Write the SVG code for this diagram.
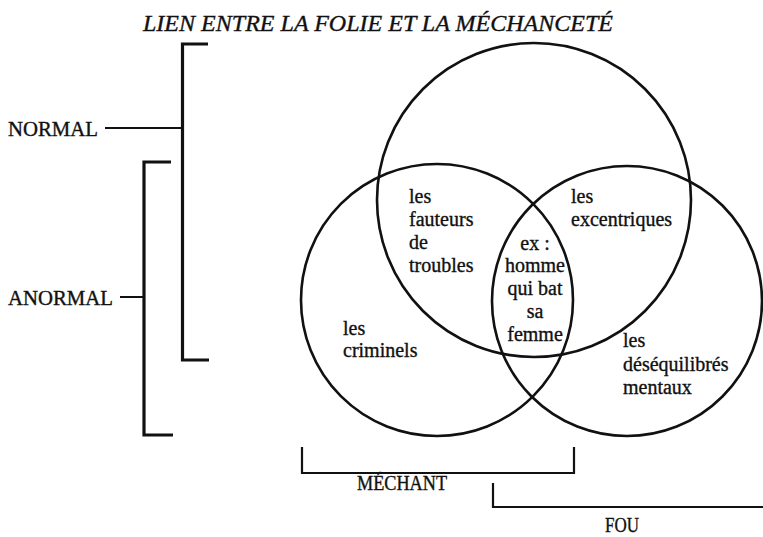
<svg xmlns="http://www.w3.org/2000/svg" width="763" height="537" viewBox="0 0 763 537">
<style>
  text { font-family: "Liberation Serif", "Times New Roman", serif; fill: #111; stroke: #111; stroke-width: 0.35; }
  .lbl { font-size: 20px; }
  .cap { font-size: 20px; }
  .title { font-size: 23px; font-style: italic; }
  .circle { fill: none; stroke: #111; stroke-width: 2.6; }
  .brk { fill: none; stroke: #111; stroke-width: 3.2; }
  .brk2 { fill: none; stroke: #111; stroke-width: 2.2; }
  .tick { fill: none; stroke: #111; stroke-width: 2; }
</style>
<rect width="763" height="537" fill="#fff"/>
<text class="title" x="378" y="31" text-anchor="middle" textLength="470" lengthAdjust="spacingAndGlyphs">LIEN ENTRE LA FOLIE ET LA MÉCHANCETÉ</text>

<g id="connectors">
  <path class="brk" d="M208,44 H182.5 V360 H209"/>
  <path class="tick" d="M105,128 H182"/>
  <path class="brk" d="M171,162 H144 V435 H173"/>
  <path class="tick" d="M120,297 H143"/>
  <path class="brk2" d="M302,447 V473 H574 V447"/>
  <path class="brk2" d="M493,483 V507 H763"/>
</g>

<g id="normal">
  <text class="cap" x="8" y="136" textLength="90" lengthAdjust="spacingAndGlyphs">NORMAL</text>
</g>
<g id="anormal">
  <text class="cap" x="8" y="305" textLength="105" lengthAdjust="spacingAndGlyphs">ANORMAL</text>
</g>
<g id="mechant">
  <text class="cap" x="357" y="490" textLength="90" lengthAdjust="spacingAndGlyphs">MÉCHANT</text>
</g>
<g id="fou">
  <text class="cap" x="605" y="532" textLength="34" lengthAdjust="spacingAndGlyphs">FOU</text>
</g>

<g id="circle-top">
  <circle class="circle" cx="534" cy="200" r="157"/>
</g>
<g id="circle-left">
  <circle class="circle" cx="437" cy="300" r="136"/>
</g>
<g id="circle-right">
  <circle class="circle" cx="627" cy="301" r="135"/>
</g>

<g id="fauteurs">
  <text class="lbl" x="409" y="203">les</text>
  <text class="lbl" x="409" y="226">fauteurs</text>
  <text class="lbl" x="409" y="249">de</text>
  <text class="lbl" x="409" y="272">troubles</text>
</g>
<g id="excentriques">
  <text class="lbl" x="571" y="203">les</text>
  <text class="lbl" x="571" y="226">excentriques</text>
</g>
<g id="centre">
  <text class="lbl" x="535" y="250" text-anchor="middle">ex :</text>
  <text class="lbl" x="535" y="272" text-anchor="middle">homme</text>
  <text class="lbl" x="535" y="295" text-anchor="middle">qui bat</text>
  <text class="lbl" x="535" y="318" text-anchor="middle">sa</text>
  <text class="lbl" x="535" y="341" text-anchor="middle">femme</text>
</g>
<g id="criminels">
  <text class="lbl" x="343" y="335">les</text>
  <text class="lbl" x="343" y="357">criminels</text>
</g>
<g id="desequilibres">
  <text class="lbl" x="623" y="347">les</text>
  <text class="lbl" x="623" y="371">déséquilibrés</text>
  <text class="lbl" x="623" y="394">mentaux</text>
</g>
</svg>
